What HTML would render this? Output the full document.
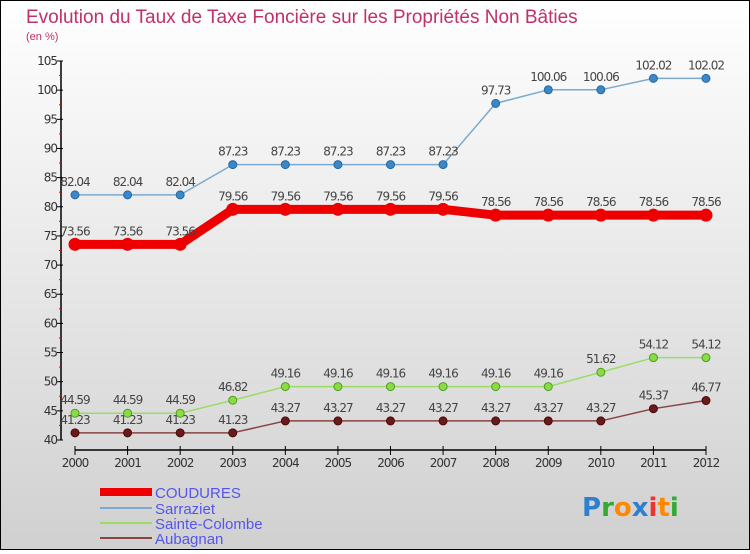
<!DOCTYPE html>
<html><head><meta charset="utf-8"><style>
body{margin:0;}
#c{width:750px;height:550px;position:relative;font-family:"DejaVu Sans","Liberation Sans",sans-serif;}
</style></head><body>
<div id="c">
<svg id="s" width="750" height="550" xmlns="http://www.w3.org/2000/svg">
<defs><linearGradient id="bg" x1="0" y1="0" x2="0" y2="1"><stop offset="0" stop-color="#ffffff"/><stop offset="1" stop-color="#d0d0d0"/></linearGradient></defs>
<rect x="0.5" y="0.5" width="749" height="549" fill="url(#bg)" stroke="#000"/>
<text x="26" y="23" font-size="19" fill="#c0306a" font-family="Liberation Sans, sans-serif">Evolution du Taux de Taxe Foncière sur les Propriétés Non Bâties</text>
<text x="26" y="40" font-size="11" fill="#c0306a" font-family="Liberation Sans, sans-serif">(en %)</text>
<g id="axes"></g><g id="series"></g>
<g font-family="Liberation Sans, sans-serif" font-size="15" fill="#5555ee">
<rect x="100" y="488" width="52" height="8" fill="#ee0000"/>
<text x="155" y="498">COUDURES</text>
<rect x="100" y="507" width="52" height="2" fill="#7aaad0"/>
<text x="155" y="514">Sarraziet</text>
<rect x="100" y="522" width="52" height="2" fill="#99dd66"/>
<text x="155" y="529">Sainte-Colombe</text>
<rect x="100" y="537" width="52" height="2" fill="#884444"/>
<text x="155" y="544">Aubagnan</text>
</g>
<g font-family="DejaVu Sans, sans-serif" font-size="26" font-weight="bold">
<text x="582" y="516"><tspan fill="#2f7fd0">P</tspan><tspan fill="#33aa33">r</tspan><tspan fill="#ff8800">o</tspan><tspan fill="#2f7fd0">x</tspan><tspan fill="#ee3333">i</tspan><tspan fill="#ff8800">t</tspan><tspan fill="#33aa33">i</tspan></text>
</g>
</svg></div>
<script>
const years=[2000,2001,2002,2003,2004,2005,2006,2007,2008,2009,2010,2011,2012];
const coudures=[73.56,73.56,73.56,79.56,79.56,79.56,79.56,79.56,78.56,78.56,78.56,78.56,78.56];
const sarraziet=[82.04,82.04,82.04,87.23,87.23,87.23,87.23,87.23,97.73,100.06,100.06,102.02,102.02];
const sainteColombe=[44.59,44.59,44.59,46.82,49.16,49.16,49.16,49.16,49.16,49.16,51.62,54.12,54.12];
const aubagnan=[41.23,41.23,41.23,41.23,43.27,43.27,43.27,43.27,43.27,43.27,43.27,45.37,46.77];
const yTicks=[40,45,50,55,60,65,70,75,80,85,90,95,100,105];
const NS="http://www.w3.org/2000/svg";
const X=i=>75+i*(706-75)/12;
const Y=v=>440-(v-40)*(440-61)/65;
function mk(t,a,p){const e=document.createElementNS(NS,t);for(const k in a)e.setAttribute(k,a[k]);p.appendChild(e);return e;}
const ax=document.getElementById('axes');
let yl=mk('line',{x1:61,y1:Y(105),x2:61,y2:Y(40),stroke:'#000','stroke-width':1.5},ax);


yTicks.forEach(v=>{
  mk('line',{x1:57,y1:Y(v),x2:63,y2:Y(v),stroke:'#000'},ax);
  if(v<105)mk('line',{x1:59,y1:Y(v+2.5),x2:61,y2:Y(v+2.5),stroke:'#e00'},ax);
  const t=mk('text',{x:57,y:Y(v)+4,'font-size':12,'text-anchor':'end',fill:'#333','letter-spacing':'-1'},ax);
  t.textContent=v;
  
  
});
let xl=mk('line',{x1:X(0),y1:450,x2:X(12),y2:450,stroke:'#000','stroke-width':1.5},ax);


years.forEach((y,i)=>{
  mk('line',{x1:X(i),y1:446,x2:X(i),y2:455,stroke:'#000'},ax);
  const t=mk('text',{x:X(i),y:467,'font-size':12,'text-anchor':'middle',fill:'#333','letter-spacing':'-1'},ax);
  t.textContent=y;
  
  
});
const sg=document.getElementById('series');
function draw(name,data,color,w,r,dot,edge){
  const g=mk('g',{},sg);
  
  
  const pts=data.map((v,i)=>X(i)+','+Y(v)).join(' ');
  mk('polyline',{points:pts,fill:'none',stroke:color,'stroke-width':w,'stroke-linejoin':'round'},g);
  data.forEach((v,i)=>{
    const c=mk('circle',{cx:X(i),cy:Y(v),r:r,fill:dot,stroke:edge,'stroke-width':1},g);
    
    
    const t=mk('text',{x:X(i),y:Y(v)-9,'font-size':12,'text-anchor':'middle',fill:'#444','letter-spacing':'-1'},g);
    t.textContent=v;
    
    
  });
}
draw('aubagnan',aubagnan,'#884444',1.5,4,'#6a1a1a','#4a0a0a');
draw('sainte-colombe',sainteColombe,'#99dd66',1.5,4,'#88dd44','#559922');
draw('sarraziet',sarraziet,'#7aaad0',1.5,4,'#3a88cc','#2a6699');
draw('coudures',coudures,'#ee0000',9,6,'#ee0000','#ee0000');
</script>
</body></html>
